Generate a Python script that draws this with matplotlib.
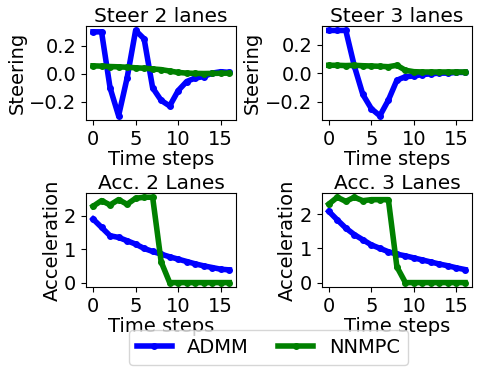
import matplotlib.pyplot as plt
import numpy as np

steps = np.arange(17)

# Steering, 2 lanes
admm_steer2 = [0.30, 0.30, -0.10, -0.30, -0.03, 0.31, 0.25, -0.10, -0.19, -0.23,
               -0.12, -0.055, -0.03, -0.02, 0.005, 0.015, 0.01]
nnmpc_steer2 = [0.057, 0.055, 0.052, 0.050, 0.047, 0.043, 0.040, 0.035, 0.030, 0.020,
                0.010, 0.005, 0.003, 0.002, 0.003, 0.004, 0.005]

# Steering, 3 lanes
admm_steer3 = [0.30, 0.30, 0.30, 0.05, -0.15, -0.25, -0.30, -0.19, -0.05, -0.025,
               -0.02, -0.01, -0.005, 0.0, 0.0, 0.005, 0.005]
nnmpc_steer3 = [0.055, 0.055, 0.053, 0.055, 0.052, 0.050, 0.048, 0.045, 0.055, 0.020,
                0.010, 0.008, 0.008, 0.008, 0.008, 0.008, 0.008]

# Acceleration, 2 lanes
admm_acc2 = [1.90, 1.65, 1.40, 1.35, 1.25, 1.15, 1.02, 0.93, 0.85, 0.77,
             0.70, 0.63, 0.56, 0.50, 0.45, 0.40, 0.38]
nnmpc_acc2 = [2.28, 2.45, 2.32, 2.48, 2.34, 2.52, 2.55, 2.55, 0.62, 0.0,
              0.0, 0.0, 0.0, 0.0, 0.0, 0.0, 0.0]

# Acceleration, 3 lanes
admm_acc3 = [2.08, 1.83, 1.59, 1.40, 1.25, 1.10, 1.00, 0.90, 0.83, 0.78,
             0.72, 0.66, 0.60, 0.54, 0.49, 0.43, 0.38]
nnmpc_acc3 = [2.29, 2.49, 2.37, 2.49, 2.39, 2.42, 2.42, 2.42, 0.46, 0.0,
              0.0, 0.0, 0.0, 0.0, 0.0, 0.0, 0.0]

steer_ticks = [-0.2, 0.0, 0.2]
acc_ticks = [0, 1, 2]

plt.rcParams.update({'font.size': 14, 'axes.titlesize': 14.5,
                     'axes.labelsize': 14, 'xtick.labelsize': 14,
                     'ytick.labelsize': 14, 'legend.fontsize': 14})

fig, axes = plt.subplots(2, 2, figsize=(4.79, 3.74), dpi=100)
fig.subplots_adjust(left=0.18, right=0.985, top=0.93, bottom=0.233,
                    wspace=0.573, hspace=0.777)

panels = [
    (axes[0, 0], admm_steer2, nnmpc_steer2, "Steer 2 lanes", "Steering", steer_ticks),
    (axes[0, 1], admm_steer3, nnmpc_steer3, "Steer 3 lanes", "Steering", steer_ticks),
    (axes[1, 0], admm_acc2, nnmpc_acc2, "Acc. 2 Lanes", "Acceleration", acc_ticks),
    (axes[1, 1], admm_acc3, nnmpc_acc3, "Acc. 3 Lanes", "Acceleration", acc_ticks),
]

for ax, a, n, title, ylabel, yt in panels:
    ax.plot(steps, a, color='blue', marker='o', lw=4, ms=4, label='ADMM')
    ax.plot(steps, n, color='green', marker='o', lw=4, ms=4, label='NNMPC')
    ax.set_title(title, pad=3)
    ax.set_xlabel("Time steps", labelpad=1)
    ax.set_ylabel(ylabel, labelpad=2)
    ax.set_xticks([0, 5, 10, 15])
    ax.set_yticks(yt)

handles, labels = axes[0, 0].get_legend_handles_labels()
fig.legend(handles, labels, loc='lower center', ncol=2, bbox_to_anchor=(0.56, 0.015),
           handlelength=1.8, columnspacing=1.5, borderaxespad=0.2)

plt.savefig("out.png", dpi=100)
plt.close()
